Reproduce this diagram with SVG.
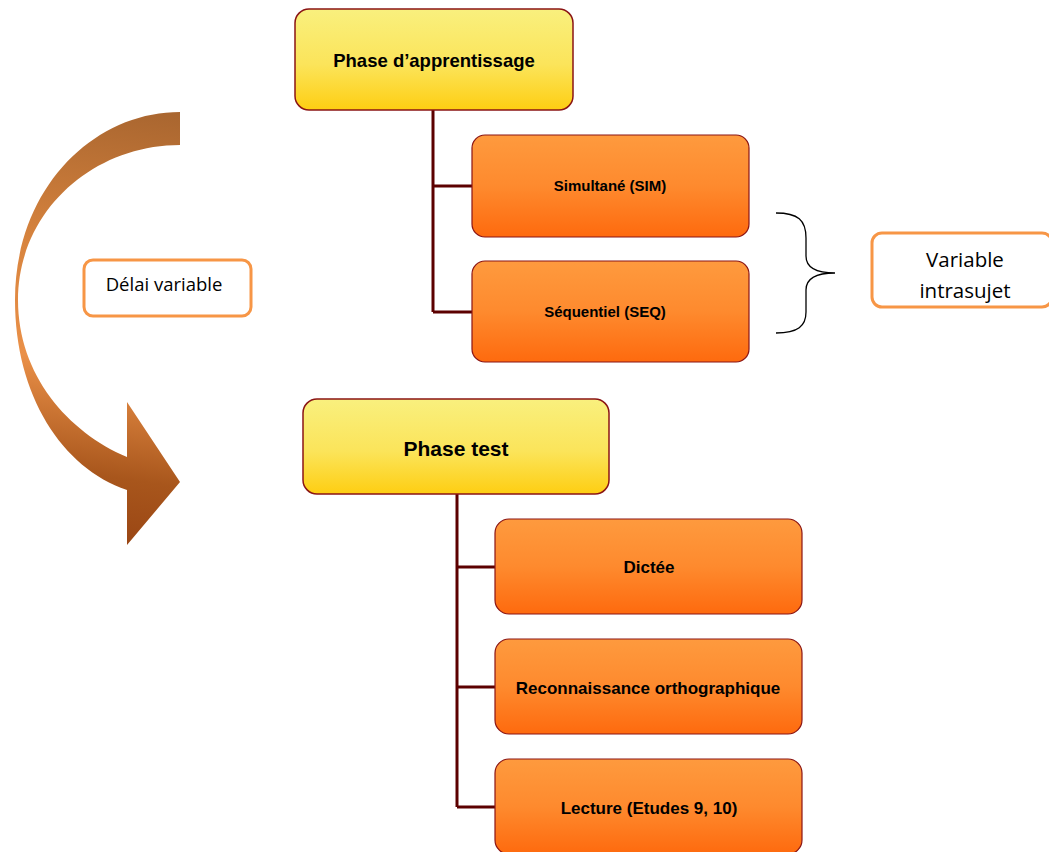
<svg xmlns="http://www.w3.org/2000/svg" width="1049" height="852" viewBox="0 0 1049 852">
<defs>
<linearGradient id="gy" x1="0" y1="0" x2="0" y2="1"><stop offset="0" stop-color="#f9f07e"/><stop offset="0.55" stop-color="#fbe45a"/><stop offset="1" stop-color="#fece12"/></linearGradient>
<linearGradient id="go" x1="0" y1="0" x2="0" y2="1"><stop offset="0" stop-color="#fe9a3e"/><stop offset="0.5" stop-color="#fe8a2e"/><stop offset="1" stop-color="#fe6a0e"/></linearGradient>
<linearGradient id="ga" gradientUnits="userSpaceOnUse" x1="180" y1="110" x2="120" y2="545"><stop offset="0" stop-color="#a8652f"/><stop offset="0.35" stop-color="#d8843e"/><stop offset="0.6" stop-color="#ea9048"/><stop offset="0.85" stop-color="#a8561c"/><stop offset="1" stop-color="#9a4614"/></linearGradient>
<style>
.y{fill:url(#gy);stroke:#8a1414;stroke-width:1.5}
.o{fill:url(#go);stroke:#8a1414;stroke-width:1.2}
.w{fill:#fff;stroke:#f79646;stroke-width:3}
.c{fill:none;stroke:#5c0000;stroke-width:3}
.tb{font-family:"Liberation Sans",Arial,sans-serif;font-weight:bold;fill:#000;text-anchor:middle}
.tn{font-family:"Open Sans","Liberation Sans",sans-serif;fill:#000;text-anchor:middle}
</style>
</defs>
<g id="arrow">
<path d="M180,112 C92,112 15,190 15,300 C15,395 62,468 127,490 L127,545 L180,482 L127,402 L127,457 C68,432 18,375 18,300 C18,212 92,145 180,145 Z" fill="url(#ga)"/>
</g>
<g id="connectors">
<path class="c" d="M433,110 V312 M433,186 H472 M433,312 H472"/>
<path class="c" d="M457,494 V807 M457,567 H495 M457,687 H495 M457,807 H495"/>
<path d="M776,213 C798,213 806,220 806,238 L806,256 C806,267 815,273 835,273 C815,273 806,279 806,290 L806,312 C806,326 798,333 776,333" fill="none" stroke="#000" stroke-width="1.3"/>
</g>
<g id="n-delai"><rect class="w" x="84" y="260" width="167" height="56" rx="9"/><text class="tn" x="164" y="291" font-size="18.5">Délai variable</text></g>
<g id="n-app"><rect class="y" x="295" y="9" width="278" height="101" rx="14"/><text class="tb" x="434" y="67" font-size="18.5">Phase d’apprentissage</text></g>
<g id="n-sim"><rect class="o" x="472" y="135" width="277" height="102" rx="13"/><text class="tb" x="610" y="191" font-size="15">Simultané (SIM)</text></g>
<g id="n-seq"><rect class="o" x="472" y="261" width="277" height="101" rx="13"/><text class="tb" x="605" y="317" font-size="15">Séquentiel (SEQ)</text></g>
<g id="n-var"><rect class="w" x="872" y="233" width="180" height="74" rx="10"/><text class="tn" x="965" y="267" font-size="20.5">Variable</text><text class="tn" x="965" y="298" font-size="20.5">intrasujet</text></g>
<g id="n-test"><rect class="y" x="303" y="399" width="306" height="95" rx="14"/><text class="tb" x="456" y="456" font-size="21">Phase test</text></g>
<g id="n-dictee"><rect class="o" x="495" y="519" width="307" height="95" rx="14"/><text class="tb" x="649" y="573" font-size="17">Dictée</text></g>
<g id="n-reco"><rect class="o" x="495" y="639" width="307" height="95" rx="14"/><text class="tb" x="648" y="694" font-size="17">Reconnaissance orthographique</text></g>
<g id="n-lect"><rect class="o" x="495" y="759" width="307" height="95" rx="14"/><text class="tb" x="649" y="814" font-size="17">Lecture (Etudes 9, 10)</text></g>
</svg>
